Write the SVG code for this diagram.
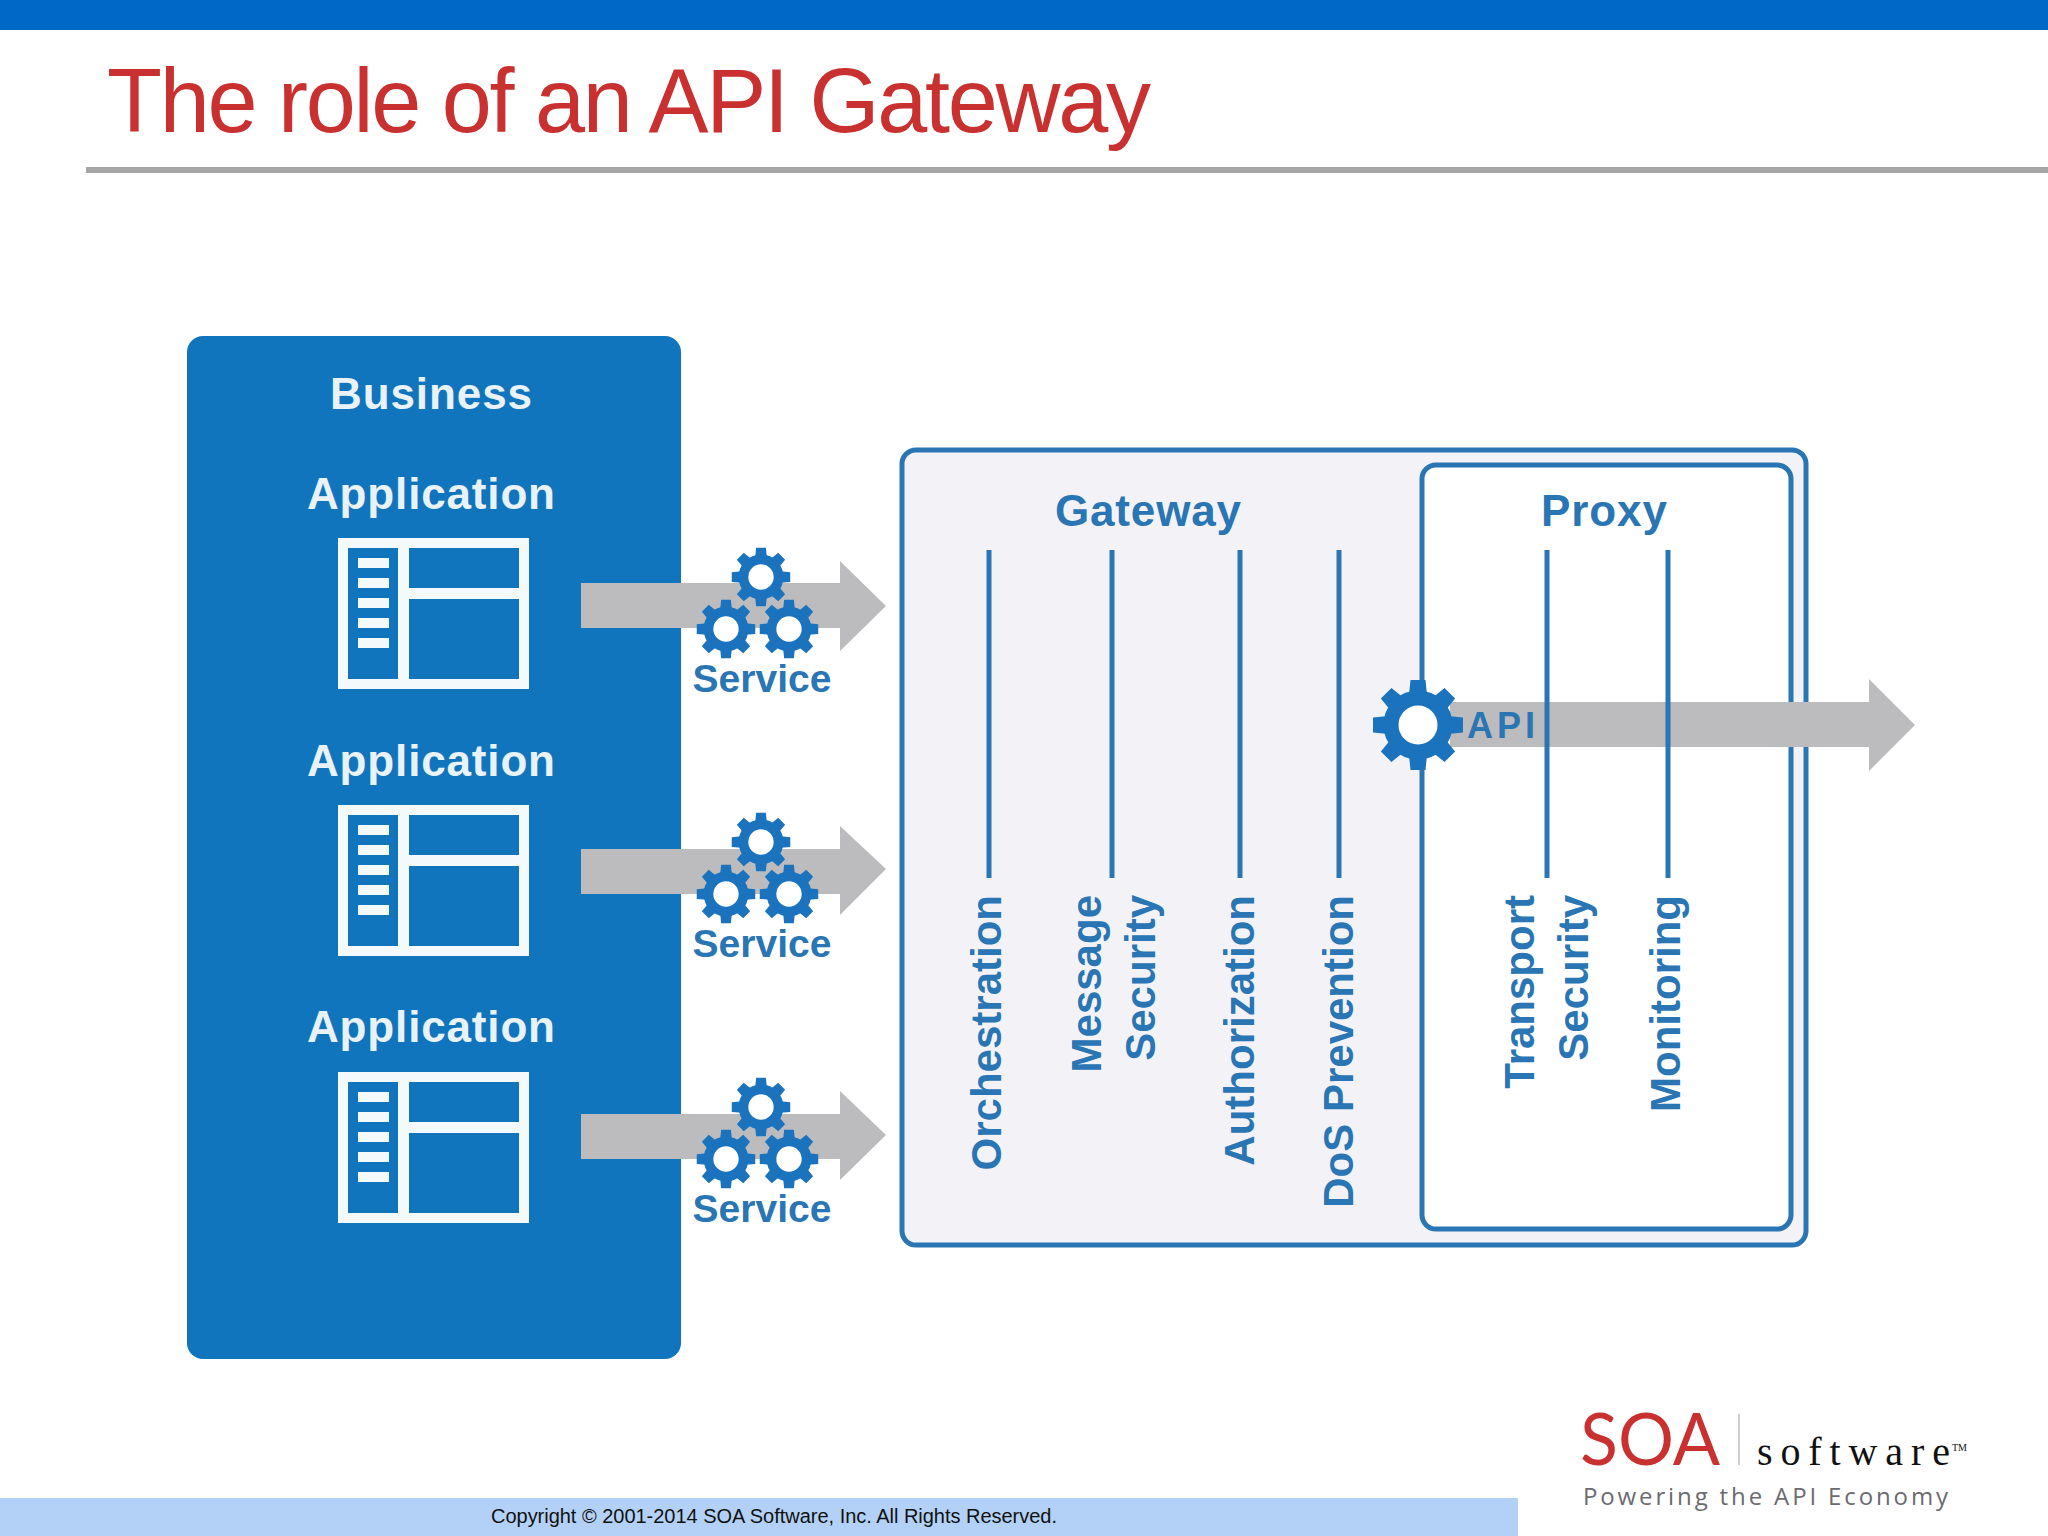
<svg xmlns="http://www.w3.org/2000/svg" width="2048" height="1536" viewBox="0 0 2048 1536">
<style>
text{font-family:"Liberation Sans",Arial,sans-serif}
.b{font-weight:700;fill:#2a75b3}
.w{font-weight:700;fill:#e9f2f9;font-size:44px;text-anchor:middle}
.lab{font-size:42px;text-anchor:end}
.svc{font-size:39px;text-anchor:middle}
.arrow{fill:#bcbcbe}
.gear{fill:#1b72bd}
.ln{stroke:#2a75b3;stroke-width:5;fill:none}
</style>
<defs>
<g id="gear">
<circle cx="0" cy="0" r="27" fill="#fff" stroke="#1b72bd" stroke-width="15"/>
<g class="gear">
<path id="tooth" d="M-9 -30L-7.5 -45H7.5L9 -30Z"/>
<path d="M-9 -30L-7.5 -45H7.5L9 -30Z" transform="rotate(45)"/>
<path d="M-9 -30L-7.5 -45H7.5L9 -30Z" transform="rotate(90)"/>
<path d="M-9 -30L-7.5 -45H7.5L9 -30Z" transform="rotate(135)"/>
<path d="M-9 -30L-7.5 -45H7.5L9 -30Z" transform="rotate(180)"/>
<path d="M-9 -30L-7.5 -45H7.5L9 -30Z" transform="rotate(225)"/>
<path d="M-9 -30L-7.5 -45H7.5L9 -30Z" transform="rotate(270)"/>
<path d="M-9 -30L-7.5 -45H7.5L9 -30Z" transform="rotate(315)"/>
</g>
</g>
<g id="trio">
<use href="#gear" transform="translate(761 577) scale(.65)"/>
<use href="#gear" transform="translate(726 629) scale(.65)"/>
<use href="#gear" transform="translate(789 629) scale(.65)"/>
</g>
<g id="appicon">
<rect x="343" y="543" width="181" height="141" fill="none" stroke="#f4f9fc" stroke-width="10"/>
<rect x="398" y="543" width="11" height="141" fill="#f4f9fc"/>
<rect x="409" y="588" width="115" height="11" fill="#f4f9fc"/>
<rect x="358" y="558" width="31" height="10" fill="#f4f9fc"/>
<rect x="358" y="578" width="31" height="10" fill="#f4f9fc"/>
<rect x="358" y="598" width="31" height="10" fill="#f4f9fc"/>
<rect x="358" y="618" width="31" height="10" fill="#f4f9fc"/>
<rect x="358" y="638" width="31" height="10" fill="#f4f9fc"/>
</g>
</defs>
<rect width="2048" height="1536" fill="#fff"/>
<g id="header">
<rect x="0" y="0" width="2048" height="30" fill="#0069c8"/>
<text x="107" y="132" font-size="90" fill="#c8312f" textLength="1044" lengthAdjust="spacing">The role of an API Gateway</text>
<rect x="86" y="167" width="1962" height="6" fill="#a5a5a5"/>
</g>
<g id="business">
<rect x="187" y="336" width="494" height="1023" rx="16" fill="#1075bd"/>
<text class="w" x="431" y="409" textLength="202">Business</text>
<text class="w" x="431" y="509" textLength="248">Application</text>
<text class="w" x="431" y="776" textLength="248">Application</text>
<text class="w" x="431" y="1042" textLength="248">Application</text>
<use id="app1" href="#appicon"/>
<use id="app2" href="#appicon" y="267"/>
<use id="app3" href="#appicon" y="534"/>
</g>
<g id="gateway">
<rect x="902" y="450" width="904" height="795" rx="14" fill="#f3f3f7" stroke="#2a75b3" stroke-width="5"/>
<text class="b" x="1148" y="526" font-size="44" text-anchor="middle" textLength="186">Gateway</text>
</g>
<g id="proxy">
<rect x="1422" y="465" width="369" height="764" rx="14" fill="#fff" stroke="#2a75b3" stroke-width="5"/>
<text class="b" x="1604" y="526" font-size="44" text-anchor="middle" textLength="126">Proxy</text>
</g>
<g id="connectors">
<path class="arrow" d="M581 583H840V561L886 606L840 651V628H581Z"/>
<path class="arrow" d="M581 849H840V826L886 869L840 915V894H581Z"/>
<path class="arrow" d="M581 1114H840V1091L886 1135L840 1180V1159H581Z"/>
<path class="arrow" d="M1450 702H1869V679L1915 725L1869 771V747H1450Z"/>
<line class="ln" x1="989" y1="550" x2="989" y2="878"/>
<line class="ln" x1="1112" y1="550" x2="1112" y2="878"/>
<line class="ln" x1="1240" y1="550" x2="1240" y2="878"/>
<line class="ln" x1="1339" y1="550" x2="1339" y2="878"/>
<line class="ln" x1="1547" y1="550" x2="1547" y2="878"/>
<line class="ln" x1="1668" y1="550" x2="1668" y2="878"/>
</g>
<g id="service1">
<use href="#trio"/>
<text class="b svc" x="762" y="692">Service</text>
</g>
<g id="service2">
<use href="#trio" y="265"/>
<text class="b svc" x="762" y="957">Service</text>
</g>
<g id="service3">
<use href="#trio" y="530"/>
<text class="b svc" x="762" y="1222">Service</text>
</g>
<g id="api">
<use href="#gear" transform="translate(1418 725)"/>
<text class="b" x="1467" y="738" font-size="36" textLength="68">API</text>
</g>
<g id="functions">
<text class="b lab" transform="translate(1001 895) rotate(-90)">Orchestration</text>
<text class="b lab" transform="translate(1101 895) rotate(-90)">Message</text>
<text class="b lab" transform="translate(1155 895) rotate(-90)">Security</text>
<text class="b lab" transform="translate(1254 895) rotate(-90)">Authorization</text>
<text class="b lab" transform="translate(1353 895) rotate(-90)">DoS Prevention</text>
<text class="b lab" transform="translate(1534 895) rotate(-90)">Transport</text>
<text class="b lab" transform="translate(1588 895) rotate(-90)">Security</text>
<text class="b lab" transform="translate(1680 895) rotate(-90)">Monitoring</text>
</g>
<g id="footer">
<rect x="0" y="1498" width="1518" height="38" fill="#b3d1f7"/>
<text x="491" y="1523" font-size="20" fill="#111" textLength="566">Copyright © 2001-2014 SOA Software, Inc. All Rights Reserved.</text>
</g>
<g id="logo">
<text x="1580" y="1465" font-size="72" fill="#c8312f" textLength="140" lengthAdjust="spacingAndGlyphs" style="font-family:Lato,'Liberation Sans',sans-serif;font-weight:400">SOA</text>
<rect x="1738" y="1414" width="2" height="51" fill="#cfcfcf"/>
<text x="1757" y="1465" font-size="40" fill="#111" textLength="193" style="font-family:'Liberation Serif',serif">software</text>
<text x="1952" y="1451" font-size="10" fill="#111" style="font-family:'Liberation Serif',serif">TM</text>
<text x="1583" y="1505" font-size="24" fill="#6b6b70" textLength="365" style="font-family:'Open Sans',sans-serif">Powering the API Economy</text>
</g>
</svg>
